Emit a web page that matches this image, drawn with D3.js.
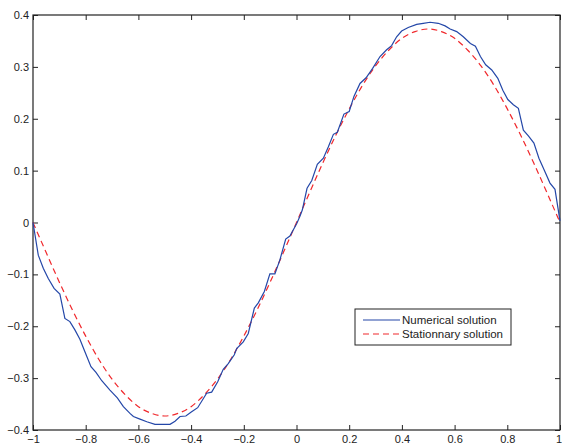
<!DOCTYPE html>
<html>
<head>
<meta charset="utf-8">
<script src="https://cdn.jsdelivr.net/npm/d3@7/dist/d3.min.js"></script>
<style>
  body { margin: 0; background: #fff; }
  svg { display: block; }
  .tick text { font-family: "Liberation Sans", Arial, sans-serif; font-size: 11px; fill: #222; }
</style>
</head>
<body>
<svg id="chart" width="562" height="445"></svg>
<script>
// numerical solution
var numX = [-1, -0.980, -0.961, -0.942, -0.920, -0.898, -0.879, -0.860, -0.841, -0.822, -0.803,
  -0.780, -0.761, -0.739, -0.708, -0.680, -0.657, -0.632, -0.619, -0.594, -0.568, -0.537,
  -0.480, -0.461, -0.442, -0.420, -0.398, -0.375, -0.341, -0.322, -0.299, -0.278, -0.259,
  -0.236, -0.227, -0.202, -0.183, -0.160, -0.145, -0.122, -0.101, -0.082, -0.063, -0.041,
  -0.025, 0.001, 0.013, 0.022, 0.040, 0.058, 0.079, 0.102, 0.121, 0.140, 0.155, 0.180,
  0.200, 0.218, 0.241, 0.264, 0.289, 0.317, 0.342, 0.361, 0.380, 0.399, 0.424, 0.456,
  0.481, 0.507, 0.538, 0.564, 0.583, 0.608, 0.633, 0.660, 0.679, 0.698, 0.718, 0.741,
  0.764, 0.783, 0.802, 0.823, 0.842, 0.861, 0.880, 0.901, 0.920, 0.940, 0.962, 0.981, 1];
var numY = [0, -0.063, -0.088, -0.108, -0.127, -0.138, -0.185, -0.191, -0.207, -0.225, -0.249,
  -0.278, -0.289, -0.305, -0.323, -0.338, -0.355, -0.368, -0.374, -0.379, -0.384, -0.389,
  -0.389, -0.383, -0.374, -0.373, -0.365, -0.357, -0.329, -0.327, -0.307, -0.283, -0.272,
  -0.255, -0.243, -0.230, -0.214, -0.165, -0.155, -0.133, -0.099, -0.099, -0.072, -0.032,
  -0.026, -0.002, 0.012, 0.024, 0.066, 0.081, 0.112, 0.124, 0.146, 0.170, 0.174, 0.209,
  0.214, 0.243, 0.268, 0.279, 0.297, 0.320, 0.333, 0.341, 0.358, 0.369, 0.376, 0.382,
  0.384, 0.386, 0.384, 0.379, 0.373, 0.368, 0.358, 0.345, 0.340, 0.320, 0.304, 0.294,
  0.278, 0.255, 0.237, 0.227, 0.220, 0.178, 0.167, 0.153, 0.124, 0.101, 0.076, 0.064, 0.003];

// stationary solution
var statX = [-1, -0.95, -0.9, -0.85, -0.8, -0.75, -0.7, -0.65, -0.6, -0.55, -0.5, -0.45, -0.4,
  -0.35, -0.3, -0.25, -0.2, -0.15, -0.1, -0.05, 0, 0.05, 0.1, 0.15, 0.2, 0.25, 0.3, 0.35,
  0.4, 0.45, 0.5, 0.55, 0.6, 0.65, 0.7, 0.75, 0.8, 0.85, 0.9, 0.95, 1];
var statY = [0, -0.058, -0.115, -0.169, -0.219, -0.264, -0.302, -0.332, -0.355, -0.368, -0.373,
  -0.368, -0.355, -0.332, -0.302, -0.264, -0.219, -0.169, -0.115, -0.058, 0, 0.058, 0.115,
  0.169, 0.219, 0.264, 0.302, 0.332, 0.355, 0.368, 0.373, 0.368, 0.355, 0.332, 0.302, 0.264,
  0.219, 0.169, 0.115, 0.058, 0];

var xTicks = [-1, -0.8, -0.6, -0.4, -0.2, 0, 0.2, 0.4, 0.6, 0.8, 1];
var yTicks = [-0.4, -0.3, -0.2, -0.1, 0, 0.1, 0.2, 0.3, 0.4];
var legendNames = ["Numerical solution", "Stationnary solution"];

var blue = "#2447a8", red = "#f0282c";
// note: "top" clashes with window.top, so plot edges get a prefix
var plotL = 33, plotR = 560, plotT = 15, plotB = 430;

var svg = d3.select("#chart");
var x = d3.scaleLinear().domain([-1, 1]).range([plotL, plotR]);
var y = d3.scaleLinear().domain([-0.4, 0.4]).range([plotB, plotT]);

var fmt = function(d) { return d3.format("")(d).replace("-", "\u2212"); };

// axes, ticks pointing inward like matlab
var xAxisG = svg.append("g").attr("transform", "translate(0," + plotB + ")")
  .call(d3.axisBottom(x).tickValues(xTicks).tickFormat(fmt).tickSizeInner(-5).tickSizeOuter(0).tickPadding(5));
// keep the last label ("1") inside the window
xAxisG.selectAll(".tick text").filter(function(d) { return d === 1; }).attr("dx", "-1.5");
svg.append("g").attr("transform", "translate(0," + plotT + ")")
  .call(d3.axisTop(x).tickValues(xTicks).tickFormat("").tickSizeInner(-5).tickSizeOuter(0));
svg.append("g").attr("transform", "translate(" + plotL + ",0)")
  .call(d3.axisLeft(y).tickValues(yTicks).tickFormat(fmt).tickSizeInner(-5).tickSizeOuter(0).tickPadding(4));
svg.append("g").attr("transform", "translate(" + plotR + ",0)")
  .call(d3.axisRight(y).tickValues(yTicks).tickFormat("").tickSizeInner(-5).tickSizeOuter(0));
svg.selectAll(".domain").remove();
svg.selectAll(".tick line").attr("stroke", "#222");

svg.append("rect").attr("x", plotL).attr("y", plotT)
  .attr("width", plotR - plotL).attr("height", plotB - plotT)
  .attr("fill", "none").attr("stroke", "#222").attr("stroke-width", 1.2);

var line = d3.line().x(function(d) { return x(d[0]); }).y(function(d) { return y(d[1]); });

svg.append("path").datum(d3.zip(statX, statY))
  .attr("d", line.curve(d3.curveMonotoneX)).attr("fill", "none")
  .attr("stroke", red).attr("stroke-width", 1.2).attr("stroke-dasharray", "6,4");

svg.append("path").datum(d3.zip(numX, numY))
  .attr("d", line.curve(d3.curveLinear)).attr("fill", "none")
  .attr("stroke", blue).attr("stroke-width", 1.2);

// legend
var lg = svg.append("g").attr("transform", "translate(355,309)");
lg.append("rect").attr("width", 156).attr("height", 36)
  .attr("fill", "#fff").attr("stroke", "#222").attr("stroke-width", 1);
legendNames.forEach(function(name, i) {
  var yy = 11 + i * 14;
  lg.append("line").attr("x1", 8).attr("x2", 45).attr("y1", yy).attr("y2", yy)
    .attr("stroke", i ? red : blue).attr("stroke-width", 1.2)
    .attr("stroke-dasharray", i ? "6,4" : null);
  lg.append("text").attr("x", 47).attr("y", yy + 4).text(name)
    .style("font-family", "Liberation Sans, Arial, sans-serif").style("font-size", "11.5px").attr("fill", "#222");
});
</script>
</body>
</html>
